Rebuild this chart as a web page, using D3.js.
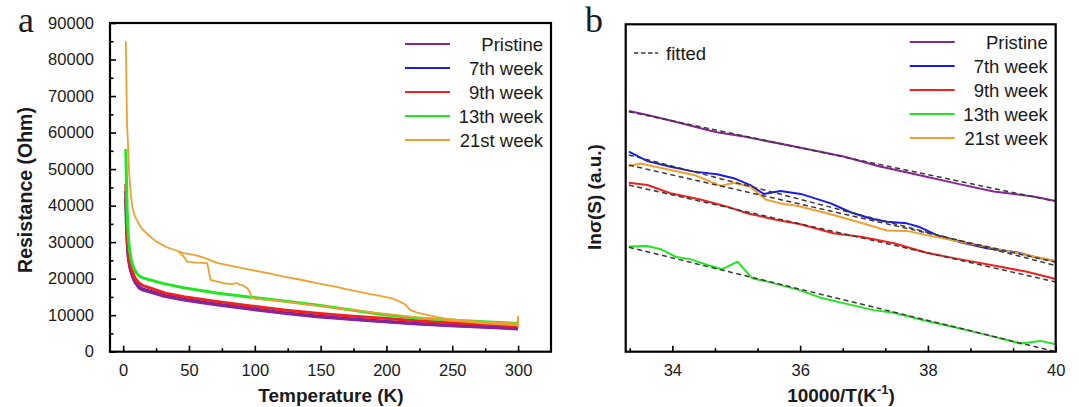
<!DOCTYPE html>
<html>
<head>
<meta charset="utf-8">
<script src="https://cdn.jsdelivr.net/npm/d3@7"></script>
<style>
  html, body { margin: 0; padding: 0; background: #fff; }
  svg { display: block; }
  text { font-family: "Liberation Sans", Arial, sans-serif; fill: #1a1a1a; }
</style>
</head>
<body>
<svg id="chart" width="1079" height="407"></svg>
<script>
// ---------------- DATA ----------------
const seriesNames = ["Pristine", "7th week", "9th week", "13th week", "21st week"];

// Panel a: Resistance (Ohm) vs Temperature (K)
const pristineT = [2, 2.5, 3, 3.5, 4, 5, 6, 7, 8.5, 10, 12, 15, 21, 30, 46, 60, 72, 97, 122, 147, 172, 198, 223, 248, 274, 300];
const pristineR = [42000, 35000, 30500, 27500, 25500, 23200, 21800, 20700, 19400, 18500, 17500, 16900, 16300, 15300, 14170, 13400, 12800, 11620, 10530, 9590, 8880, 8230, 7590, 7130, 6690, 6250];

const week7T = [2, 2.5, 3, 3.5, 4, 5, 6, 7, 8.5, 10, 12, 15, 21, 30, 46, 60, 72, 97, 122, 147, 172, 198, 223, 248, 274, 300];
const week7R = [44000, 36500, 31500, 28200, 26000, 23600, 22100, 21000, 19700, 18750, 17750, 17100, 16500, 15500, 14400, 13600, 13000, 11800, 10700, 9750, 9020, 8360, 7720, 7250, 6800, 6350];

const week9T = [2, 2.5, 3, 3.5, 4, 5, 6, 7, 8.5, 10, 12, 15, 21, 32, 46, 72, 97, 122, 147, 172, 198, 223, 248, 274, 300];
const week9R = [46000, 38000, 32500, 29000, 27000, 24500, 23200, 22000, 20600, 19700, 18800, 18100, 17380, 16000, 15080, 13710, 12530, 11430, 10530, 9790, 9150, 8500, 7950, 7510, 7050];

const week13T = [2, 2.3, 2.7, 3, 3.5, 4, 5, 6, 7, 8.5, 10, 12, 15, 20, 30, 46, 72, 97, 122, 147, 172, 198, 223, 248, 274, 300];
const week13R = [55500, 50000, 44000, 39000, 34000, 31000, 27500, 25500, 24000, 22600, 21600, 20800, 20200, 19700, 18700, 17500, 16000, 14900, 13900, 12800, 11500, 10100, 9200, 8700, 8230, 7700];

// 21st week: shared low-T part, then an upper and a lower branch
const week21UpperT = [2, 2.3, 2.6, 3, 3.8, 4.5, 5.8, 7, 9, 11, 14, 18, 25, 33, 42, 46, 54, 60, 72, 85, 97, 110, 122, 135, 147, 160, 172, 185, 198, 205, 210, 214, 218, 224, 231, 240, 248, 260, 274, 290, 299.5, 300, 300];
const week21UpperR = [85000, 78000, 70000, 62000, 55800, 49000, 43000, 39500, 37000, 35600, 33800, 32300, 30200, 28600, 27500, 26970, 26500, 25900, 24230, 23300, 22400, 21500, 20560, 19700, 18750, 17900, 16910, 16000, 15080, 14500, 13710, 13000, 11430, 10600, 10060, 9400, 8880, 8500, 8140, 7900, 7700, 9600, 6700];
const week21LowerT = [42, 46, 48.7, 55, 60, 63.9, 66.4, 70, 76.5, 82, 86.7, 88.5, 91, 94.2, 96, 98, 105, 115, 122, 147, 172, 198, 223, 248, 274, 300];
const week21LowerR = [27500, 26000, 24670, 24400, 24300, 24230, 19650, 19300, 18750, 18500, 18750, 18300, 18200, 17380, 16500, 14640, 14300, 14000, 13710, 12600, 11430, 10400, 9420, 8600, 7780, 7200];

const aXTicks = [0, 50, 100, 150, 200, 250, 300];
const aXMinor = [25, 75, 125, 175, 225, 275];
const aYTicks = [0, 10000, 20000, 30000, 40000, 50000, 60000, 70000, 80000, 90000];
const aYMinor = [5000, 15000, 25000, 35000, 45000, 55000, 65000, 75000, 85000];

// Panel b: ln sigma (arbitrary units) vs 10000/T
const bPristineX = [33.32, 33.61, 33.97, 34.55, 34.70, 35.12, 35.99, 36.68, 37.26, 37.34, 37.73, 38.51, 39.03, 39.65, 40];
const bPristineY = [73.5, 72.3, 70.6, 67.7, 67.0, 65.7, 62.4, 59.6, 56.5, 56.2, 54.5, 51.1, 48.9, 47.4, 46.0];
const bWeek7X = [33.32, 33.61, 33.97, 34.34, 34.70, 34.96, 35.22, 35.43, 35.69, 36.01, 36.48, 36.79, 37.10, 37.36, 37.67, 37.88, 38.14, 38.51, 38.92, 39.40, 39.66, 40];
const bWeek7Y = [61.1, 58.2, 56.5, 55.0, 54.2, 53.0, 50.9, 48.2, 49.1, 48.2, 45.3, 42.6, 40.7, 39.7, 39.2, 38.0, 35.6, 33.4, 31.6, 30.3, 29.0, 27.6];
const bWeek9X = [33.32, 33.61, 33.97, 34.44, 34.86, 35.17, 35.64, 35.99, 36.52, 36.95, 37.47, 37.98, 38.51, 39.03, 39.55, 40];
const bWeek9Y = [51.6, 50.9, 48.4, 46.5, 44.3, 42.3, 40.2, 39.0, 36.2, 35.1, 33.1, 30.2, 28.2, 26.3, 24.4, 22.2];
const bWeek13X = [33.32, 33.61, 33.82, 34.05, 34.29, 34.55, 34.78, 35.02, 35.25, 35.49, 35.99, 36.32, 36.73, 37.15, 37.46, 37.98, 38.51, 39.03, 39.45, 39.76, 40];
const bWeek13Y = [32.1, 32.3, 31.3, 29.0, 28.2, 26.5, 25.2, 27.5, 22.4, 21.4, 18.8, 16.5, 14.6, 12.7, 11.9, 9.4, 7.1, 4.6, 2.5, 3.3, 2.3];
const bWeek21X = [33.32, 33.50, 33.97, 34.34, 34.76, 34.96, 35.22, 35.46, 35.69, 35.95, 36.42, 36.95, 37.36, 37.67, 37.98, 38.51, 39.03, 39.55, 40];
const bWeek21Y = [56.7, 57.5, 55.5, 54.0, 50.6, 51.6, 50.4, 46.5, 45.3, 44.6, 42.3, 39.4, 37.0, 36.9, 35.6, 33.6, 31.6, 29.5, 27.7];

// fitted straight lines [x0, x1], [y0, y1] per series
const fitX = [33.32, 40];
const fitPristineY = [73.3, 45.9];
const fitWeek7Y = [60.1, 26.3];
const fitWeek9Y = [50.9, 21.3];
const fitWeek13Y = [31.9, 0];
const fitWeek21Y = [57.0, 27.3];

const bXTicks = [34, 36, 38, 40];
const bXMinor = [33.333, 34.667, 35.333, 36.667, 37.333, 38.667, 39.333];

// ---------------- STYLE ----------------
const colors = ["#8a2596", "#1c1ce8", "#f22020", "#22e622", "#efa030"];
const zip = (xs, ys) => xs.map((x, i) => [x, ys[i]]);

const svg = d3.select("#chart");

function frameAndClip(id, x0, x1, y0, y1) {
  svg.append("clipPath").attr("id", id)
    .append("rect").attr("x", x0).attr("y", y1).attr("width", x1 - x0).attr("height", y0 - y1);
}

// ---------------- PANEL A ----------------
const ax = d3.scaleLinear().domain([-10, 325]).range([110, 551]);
const ay = d3.scaleLinear().domain([0, 90000]).range([351.7, 23]);
frameAndClip("clipA", 110, 551, 351.7, 23);

const gA = svg.append("g");
const lineA = d3.line().x(d => ax(d[0])).y(d => ay(d[1]));
const gAl = gA.append("g").attr("clip-path", "url(#clipA)").attr("fill", "none").attr("stroke-linejoin", "round");

gAl.append("path").datum(zip(week7T, week7R)).attr("d", lineA).attr("stroke", colors[1]).attr("stroke-width", 3);
gAl.append("path").datum(zip(pristineT, pristineR)).attr("d", lineA).attr("stroke", colors[0]).attr("stroke-width", 3.2);
gAl.append("path").datum(zip(week9T, week9R)).attr("d", lineA).attr("stroke", colors[2]).attr("stroke-width", 3);
gAl.append("path").datum(zip(week13T, week13R)).attr("d", lineA).attr("stroke", colors[3]).attr("stroke-width", 3);
gAl.append("path").datum(zip(week21LowerT, week21LowerR)).attr("d", lineA).attr("stroke", colors[4]).attr("stroke-width", 1.8);
gAl.append("path").datum(zip(week21UpperT, week21UpperR)).attr("d", lineA).attr("stroke", colors[4]).attr("stroke-width", 1.8);

// axes (ticks pointing inward)
const axB = d3.axisBottom(ax).tickValues(aXTicks).tickSizeInner(-6).tickSizeOuter(0).tickPadding(13);
const axBm = d3.axisBottom(ax).tickValues(aXMinor).tickSizeInner(-3.5).tickSizeOuter(0).tickFormat("");
const ayL = d3.axisLeft(ay).tickValues(aYTicks).tickSizeInner(-6).tickSizeOuter(0).tickPadding(16).tickFormat(d3.format("d"));
const ayLm = d3.axisLeft(ay).tickValues(aYMinor).tickSizeInner(-3.5).tickSizeOuter(0).tickFormat("");

function styleAxis(g) {
  g.select(".domain").remove();
  g.selectAll(".tick line").attr("stroke", "#000").attr("stroke-width", 1.6);
  g.selectAll(".tick text").attr("font-size", 16.5).attr("fill", "#1a1a1a")
    .attr("font-family", "Liberation Sans, Arial, sans-serif");
}
gA.append("g").attr("transform", "translate(0,351.7)").call(axB).call(styleAxis);
gA.append("g").attr("transform", "translate(0,351.7)").call(axBm).call(styleAxis);
gA.append("g").attr("transform", "translate(110,0)").call(ayL).call(styleAxis);
gA.append("g").attr("transform", "translate(110,0)").call(ayLm).call(styleAxis);

gA.append("rect").attr("x", 110).attr("y", 23).attr("width", 441).attr("height", 328.7)
  .attr("fill", "none").attr("stroke", "#000").attr("stroke-width", 2.2);

gA.append("text").attr("x", 331).attr("y", 402).attr("text-anchor", "middle")
  .attr("font-size", 19).attr("font-weight", "bold").text("Temperature (K)");
gA.append("text").attr("transform", "translate(32,190) rotate(-90)").attr("text-anchor", "middle")
  .attr("font-size", 19.5).attr("font-weight", "bold").text("Resistance (Ohm)");
gA.append("text").attr("x", 18).attr("y", 32).attr("font-size", 36)
  .style("font-family", "'Liberation Serif', 'Times New Roman', serif").text("a");

function legend(g, right, top) {
  seriesNames.forEach((name, i) => {
    const y = top + i * 24;
    g.append("line").attr("x1", right - 146).attr("x2", right - 101).attr("y1", y).attr("y2", y)
      .attr("stroke", colors[i]).attr("stroke-width", 2);
    g.append("text").attr("x", right - 8).attr("y", y + 6.5).attr("text-anchor", "end")
      .attr("font-size", 18.5).text(name);
  });
}
legend(gA, 551, 44);

// ---------------- PANEL B ----------------
const bx = d3.scaleLinear().domain([33.27, 40]).range([625.7, 1055.7]);
const by = d3.scaleLinear().domain([0, 100]).range([351.7, 24.3]);
frameAndClip("clipB", 625.7, 1055.7, 351.7, 24.3);

const gB = svg.append("g");
const lineB = d3.line().x(d => bx(d[0])).y(d => by(d[1]));
const gBl = gB.append("g").attr("clip-path", "url(#clipB)").attr("fill", "none").attr("stroke-linejoin", "round");

gBl.append("path").datum(zip(bPristineX, bPristineY)).attr("d", lineB).attr("stroke", colors[0]).attr("stroke-width", 2);
gBl.append("path").datum(zip(bWeek7X, bWeek7Y)).attr("d", lineB).attr("stroke", colors[1]).attr("stroke-width", 2);
gBl.append("path").datum(zip(bWeek9X, bWeek9Y)).attr("d", lineB).attr("stroke", colors[2]).attr("stroke-width", 2);
gBl.append("path").datum(zip(bWeek13X, bWeek13Y)).attr("d", lineB).attr("stroke", colors[3]).attr("stroke-width", 2);
gBl.append("path").datum(zip(bWeek21X, bWeek21Y)).attr("d", lineB).attr("stroke", colors[4]).attr("stroke-width", 2);

[fitPristineY, fitWeek7Y, fitWeek9Y, fitWeek13Y, fitWeek21Y].forEach(fy => {
  gBl.append("path").datum(zip(fitX, fy)).attr("d", lineB)
    .attr("stroke", "#3a3a3a").attr("stroke-width", 1.5).attr("stroke-dasharray", "5,3.5");
});

const bxB = d3.axisBottom(bx).tickValues(bXTicks).tickSizeInner(-6).tickSizeOuter(0).tickPadding(13).tickFormat(d3.format("d"));
const bxBm = d3.axisBottom(bx).tickValues(bXMinor).tickSizeInner(-3.5).tickSizeOuter(0).tickFormat("");
gB.append("g").attr("transform", "translate(0,351.7)").call(bxB).call(styleAxis);
gB.append("g").attr("transform", "translate(0,351.7)").call(bxBm).call(styleAxis);

gB.append("rect").attr("x", 625.7).attr("y", 24.3).attr("width", 430).attr("height", 327.4)
  .attr("fill", "none").attr("stroke", "#000").attr("stroke-width", 2.2);

const xt = gB.append("text").attr("x", 841).attr("y", 402).attr("text-anchor", "middle")
  .attr("font-size", 19).attr("font-weight", "bold");
xt.append("tspan").text("10000/T(K");
xt.append("tspan").attr("dy", -8).attr("font-size", 13).text("-1");
xt.append("tspan").attr("dy", 8).text(")");

gB.append("text").attr("transform", "translate(600.5,197) rotate(-90)").attr("text-anchor", "middle")
  .attr("font-size", 19).attr("font-weight", "bold").text("lnσ(S) (a.u.)");
gB.append("text").attr("x", 585).attr("y", 32).attr("font-size", 36)
  .style("font-family", "'Liberation Serif', 'Times New Roman', serif").text("b");

legend(gB, 1055.7, 42);

gB.append("line").attr("x1", 634).attr("x2", 658).attr("y1", 53).attr("y2", 53)
  .attr("stroke", "#3a3a3a").attr("stroke-width", 1.5).attr("stroke-dasharray", "4.5,2.5");
gB.append("text").attr("x", 666).attr("y", 59.5).attr("font-size", 18.5).text("fitted");
</script>
</body>
</html>
